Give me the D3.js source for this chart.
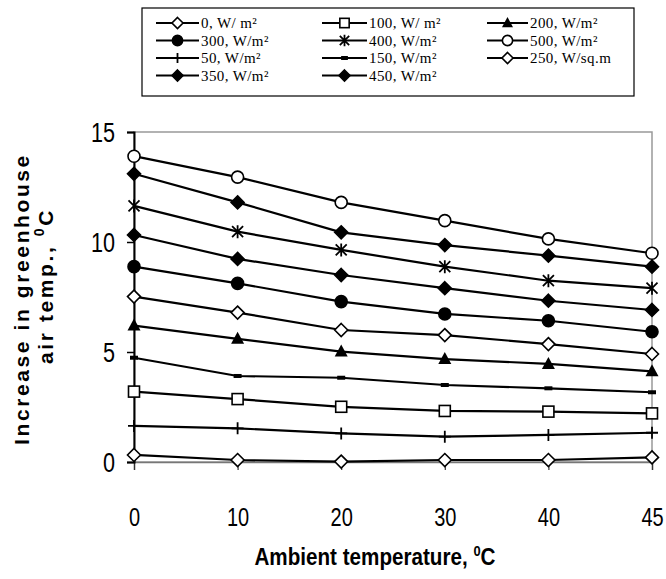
<!DOCTYPE html>
<meta charset="utf-8">
<html>
<head>
  <script src="https://d3js.org/d3.v7.min.js" charset="utf-8"></script>
</head>
<style>
body { margin: 0; background: white; }
.tick text { font-family: "Liberation Sans", Arial, sans-serif; fill: #000; }
.legend text { font-family: "Liberation Serif", "Times New Roman", serif; font-size: 15px; }
</style>
<body>
<div id="container"></div>
<script type="text/javascript">

// ambient temperature categories (evenly spaced on the x axis)
var ambient = ["0", "10", "20", "30", "40", "45"]
var yTicks = [0, 5, 10, 15]

// increase in greenhouse air temperature for each solar intensity
var irr0   = [0.32, 0.09, 0.02, 0.09, 0.09, 0.21]
var irr50  = [1.64, 1.53, 1.30, 1.15, 1.23, 1.33]
var irr100 = [3.20, 2.86, 2.51, 2.32, 2.29, 2.21]
var irr150 = [4.74, 3.91, 3.83, 3.50, 3.35, 3.17]
var irr200 = [6.20, 5.60, 5.02, 4.68, 4.46, 4.12]
var irr250 = [7.52, 6.79, 6.00, 5.77, 5.36, 4.91]
var irr300 = [8.88, 8.12, 7.29, 6.73, 6.42, 5.92]
var irr350 = [10.32, 9.23, 8.50, 7.90, 7.33, 6.91]
var irr400 = [11.64, 10.47, 9.64, 8.88, 8.24, 7.90]
var irr450 = [13.10, 11.80, 10.44, 9.86, 9.38, 8.88]
var irr500 = [13.90, 12.95, 11.80, 10.97, 10.14, 9.49]

// legend order, row by row (3 columns)
var legendNames = ["0, W/ m\u00b2", "100, W/ m\u00b2", "200, W/m\u00b2",
                   "300, W/m\u00b2", "400, W/m\u00b2", "500, W/m\u00b2",
                   "50, W/m\u00b2", "150, W/m\u00b2", "250, W/sq.m",
                   "350, W/m\u00b2", "450, W/m\u00b2"]
var legendValues = [irr0, irr100, irr200, irr300, irr400, irr500, irr50, irr150, irr250, irr350, irr450]
var legendMarkers = ["diamondOpen", "square", "triangle", "circleFilled", "asterisk", "circleOpen",
                     "plus", "dash", "diamondOpen", "diamondFilled", "diamondFilled"]

var series = legendNames.map((n, i) => ({name: n, values: legendValues[i], marker: legendMarkers[i]}))

var width = 666
var height = 579
var margin = {left: 134, right: 14, top: 132, bottom: 117}
var narrow = 0.8  // squeeze for the narrow tick/title font

var svg = d3.select("#container")
            .append("svg")
            .attr("width", width)
            .attr("height", height)

var x = d3.scalePoint().domain(ambient).range([margin.left, width - margin.right])
var y = d3.scaleLinear().domain([0, 15]).range([height - margin.bottom, margin.top])

// plot frame
svg.append("rect")
   .attr("x", margin.left).attr("y", margin.top)
   .attr("width", width - margin.right - margin.left)
   .attr("height", height - margin.bottom - margin.top)
   .attr("fill", "none").attr("stroke", "#999").attr("stroke-width", 1.5)

var xAxis = svg.append("g")
   .attr("transform", "translate(0," + y(0) + ")")
   .call(d3.axisBottom(x).tickSize(8).tickPadding(38))
xAxis.select(".domain").attr("stroke", "#777").attr("stroke-width", 1.5)
xAxis.selectAll(".tick line").attr("stroke", "#333").attr("stroke-width", 1.2)
xAxis.selectAll(".tick text").style("font-size", "25px").attr("transform", "scale(" + narrow + ",1)")

var yAxis = svg.append("g")
   .attr("transform", "translate(" + margin.left + ",0)")
   .call(d3.axisLeft(y).tickValues(yTicks).tickSize(7).tickPadding(12))
yAxis.select(".domain").attr("stroke", "#000").attr("stroke-width", 2)
yAxis.selectAll(".tick line").attr("stroke", "#000").attr("stroke-width", 1.5)
yAxis.selectAll(".tick text").style("font-size", "27px").attr("dy", "0.36em")
     .attr("x", -19 / narrow).attr("transform", "scale(" + narrow + ",1)")

// marker drawing
function drawMarker(g, type, s) {
  var k = s || 1
  if (type == "diamondOpen" || type == "diamondFilled") {
    g.append("path").attr("d", "M0," + (-6.5*k) + "L" + (6.5*k) + ",0L0," + (6.5*k) + "L" + (-6.5*k) + ",0Z")
     .attr("fill", type == "diamondOpen" ? "white" : "black").attr("stroke", "black").attr("stroke-width", 1.6)
  } else if (type == "square") {
    g.append("rect").attr("x", -5.5*k).attr("y", -5.5*k).attr("width", 11*k).attr("height", 11*k)
     .attr("fill", "white").attr("stroke", "black").attr("stroke-width", 1.6)
  } else if (type == "triangle") {
    g.append("path").attr("d", "M0," + (-7*k) + "L" + (6.5*k) + "," + (5*k) + "L" + (-6.5*k) + "," + (5*k) + "Z")
     .attr("fill", "black")
  } else if (type == "circleFilled" || type == "circleOpen") {
    g.append("circle").attr("r", 6*k)
     .attr("fill", type == "circleOpen" ? "white" : "black").attr("stroke", "black").attr("stroke-width", 1.6)
  } else if (type == "asterisk") {
    var a = 5.5*k
    g.append("path").attr("d", "M" + (-a) + "," + (-a) + "L" + a + "," + a + "M" + a + "," + (-a) + "L" + (-a) + "," + a + "M0," + (-a-1) + "L0," + (a+1))
     .attr("stroke", "black").attr("stroke-width", 1.8).attr("fill", "none")
  } else if (type == "plus") {
    g.append("path").attr("d", "M0," + (-6*k) + "L0," + (6*k) + "M" + (-6*k) + ",0L" + (6*k) + ",0")
     .attr("stroke", "black").attr("stroke-width", 1.8).attr("fill", "none")
  } else if (type == "dash") {
    g.append("rect").attr("x", -4*k).attr("y", -2).attr("width", 8*k).attr("height", 4).attr("fill", "black")
  }
}

var line = d3.line().x((d, i) => x(ambient[i])).y((d) => y(d))

var plot = svg.append("g")
series.forEach(function(s) {
  plot.append("path")
      .datum(s.values)
      .attr("d", line)
      .attr("fill", "none")
      .attr("stroke", "black")
      .attr("stroke-width", 2.2)
})
series.forEach(function(s) {
  s.values.forEach(function(v, i) {
    var g = plot.append("g").attr("transform", "translate(" + x(ambient[i]) + "," + y(v) + ")")
    drawMarker(g, s.marker)
  })
})

// legend
var legend = svg.append("g").attr("class", "legend")
legend.append("rect")
      .attr("x", 142).attr("y", 8).attr("width", 492).attr("height", 88)
      .attr("fill", "white").attr("stroke", "#000").attr("stroke-width", 1.2)

var colX = [156, 322, 487]
var colW = [43, 45, 41]
var rowY = [23, 40.5, 58, 75.5]
series.forEach(function(s, i) {
  var c = i % 3, r = Math.floor(i / 3)
  var g = legend.append("g").attr("transform", "translate(" + colX[c] + "," + rowY[r] + ")")
  g.append("line").attr("x1", 0).attr("x2", colW[c]).attr("y1", 0).attr("y2", 0)
   .attr("stroke", "black").attr("stroke-width", 2.2)
  var m = g.append("g").attr("transform", "translate(" + (colW[c] / 2) + ",0)")
  drawMarker(m, s.marker, 0.85)
  g.append("text").attr("x", colW[c] + 2).attr("y", 5).style("letter-spacing", "0.4px").text(s.name)
})

// axis titles
var xt = svg.append("text")
   .attr("x", 375 / 0.86).attr("y", 565)
   .attr("transform", "scale(0.86,1)")
   .attr("text-anchor", "middle")
   .style("font-family", "'Liberation Sans', Arial, sans-serif")
   .style("font-weight", "bold").style("font-size", "24px")
xt.append("tspan").text("Ambient temperature, ")
xt.append("tspan").attr("dy", -9).style("font-size", "15px").text("0")
xt.append("tspan").attr("dy", 9).text("C")

var yt = svg.append("g").attr("transform", "rotate(-90)")
   .style("font-family", "'Liberation Sans', Arial, sans-serif")
   .style("font-weight", "bold").style("font-size", "21px")
yt.append("text")
   .attr("x", -299).attr("y", 29).attr("text-anchor", "middle")
   .style("letter-spacing", "2.6px")
   .text("Increase in greenhouse")
var yt2 = yt.append("text")
   .attr("x", -286).attr("y", 53).attr("text-anchor", "middle")
   .style("letter-spacing", "2.6px")
yt2.append("tspan").text("air temp., ")
yt2.append("tspan").attr("dy", -9).style("font-size", "14px").text("0")
yt2.append("tspan").attr("dy", 9).text("C")

</script>
</body>
</html>
